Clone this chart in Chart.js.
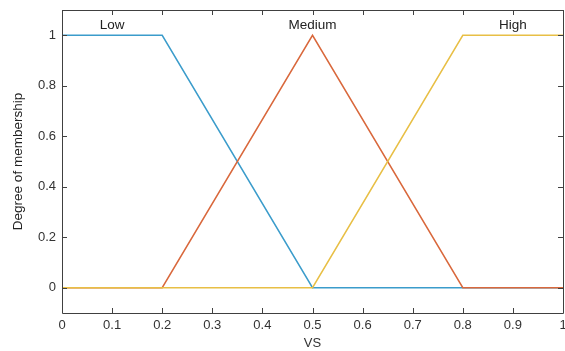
<!DOCTYPE html>
<html>
<head>
<meta charset="utf-8">
<script src="https://cdn.jsdelivr.net/npm/chart.js@4.4.0/dist/chart.umd.min.js"></script>
<style>
  html, body { margin: 0; padding: 0; background: #fff; }
  #wrap { width: 565px; height: 351px; }
</style>
</head>
<body>
<div id="wrap"><canvas id="mf"></canvas></div>
<script>
// membership functions of VS
const lowX = [0, 0.2, 0.5, 1];
const lowY = [1, 1, 0, 0];
const mediumX = [0, 0.2, 0.5, 0.8, 1];
const mediumY = [0, 0, 1, 0, 0];
const highX = [0, 0.5, 0.8, 1];
const highY = [0, 0, 1, 1];

const termNames = ["Low", "Medium", "High"];
const termLabelX = [0.1, 0.5, 0.9];
const termLabelY = 1.04;

const xTicks = [0, 0.1, 0.2, 0.3, 0.4, 0.5, 0.6, 0.7, 0.8, 0.9, 1];
const yTicks = [0, 0.2, 0.4, 0.6, 0.8, 1];

const FONT = "'Liberation Sans', Arial, Helvetica, sans-serif";
const AXIS_COLOR = "#404040";

function points(xs, ys) {
  return xs.map((x, i) => ({ x, y: ys[i] }));
}

function fmtTick(v) {
  return String(Math.round(v * 10) / 10);
}

function noPadding(scale) {
  scale.paddingLeft = 0;
  scale.paddingRight = 0;
  scale.paddingTop = 0;
  scale.paddingBottom = 0;
}

// box around plot with inward ticks on all four sides, plus term names
const boxPlugin = {
  id: "box",
  afterDatasetsDraw(chart) {
    const { ctx, chartArea: a, scales } = chart;
    const len = 5;
    ctx.save();
    ctx.strokeStyle = AXIS_COLOR;
    ctx.lineWidth = 1;
    ctx.beginPath();
    ctx.rect(Math.round(a.left) + 0.5, Math.round(a.top) + 0.5,
      Math.round(a.right - a.left), Math.round(a.bottom - a.top));
    xTicks.forEach((v) => {
      const px = Math.round(scales.x.getPixelForValue(v)) + 0.5;
      ctx.moveTo(px, a.bottom);
      ctx.lineTo(px, a.bottom - len);
      ctx.moveTo(px, a.top);
      ctx.lineTo(px, a.top + len);
    });
    yTicks.forEach((v) => {
      const py = Math.round(scales.y.getPixelForValue(v)) + 0.5;
      ctx.moveTo(a.left, py);
      ctx.lineTo(a.left + len, py);
      ctx.moveTo(a.right, py);
      ctx.lineTo(a.right - len, py);
    });
    ctx.stroke();

    ctx.fillStyle = "#222";
    ctx.font = "13.5px " + FONT;
    ctx.textAlign = "center";
    ctx.textBaseline = "middle";
    termNames.forEach((name, i) => {
      ctx.fillText(name, scales.x.getPixelForValue(termLabelX[i]),
        scales.y.getPixelForValue(termLabelY));
    });
    ctx.restore();
  },
};

new Chart(document.getElementById("mf"), {
  type: "line",
  data: {
    datasets: [
      { label: "Low", data: points(lowX, lowY), borderColor: "#3b9ccb", order: 2 },
      { label: "Medium", data: points(mediumX, mediumY), borderColor: "#d9683c", order: 1 },
      { label: "High", data: points(highX, highY), borderColor: "#e8bf45", order: 0 },
    ],
  },
  options: {
    responsive: true,
    maintainAspectRatio: false,
    animation: false,
    layout: { padding: { top: 10, right: 2, left: 0, bottom: 0 } },
    elements: {
      line: { borderWidth: 1.5, tension: 0, fill: false },
      point: { radius: 0 },
    },
    plugins: { legend: { display: false }, tooltip: { enabled: false } },
    scales: {
      x: {
        type: "linear",
        min: 0,
        max: 1,
        grid: { display: false, drawTicks: false },
        border: { display: false },
        afterBuildTicks: (scale) => { scale.ticks = xTicks.map((v) => ({ value: v })); },
        afterFit: (scale) => { scale.height = 38; noPadding(scale); },
        ticks: { color: "#333", font: { family: FONT, size: 13 }, padding: 5, maxRotation: 0, callback: fmtTick },
        title: { display: true, text: "VS", color: "#333", font: { family: FONT, size: 13 }, padding: { top: 0, bottom: 0 } },
      },
      y: {
        type: "linear",
        min: -0.1,
        max: 1.1,
        grid: { display: false, drawTicks: false },
        border: { display: false },
        afterBuildTicks: (scale) => { scale.ticks = yTicks.map((v) => ({ value: v })); },
        afterFit: (scale) => { scale.width = 62; noPadding(scale); },
        ticks: { color: "#333", font: { family: FONT, size: 13 }, padding: 6, callback: fmtTick },
        title: { display: true, text: "Degree of membership", color: "#222", font: { family: FONT, size: 13.5 }, padding: { top: 10, bottom: 0 } },
      },
    },
  },
  plugins: [boxPlugin],
});
</script>
</body>
</html>
